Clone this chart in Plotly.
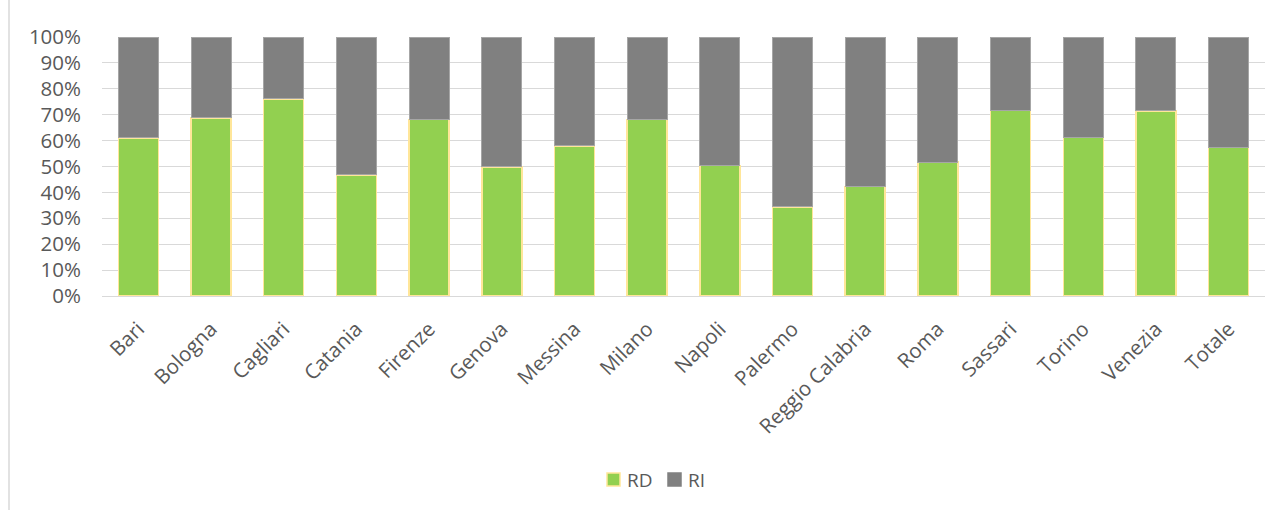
import plotly.graph_objects as go

# Share of separated (RD) vs. unsorted (RI) waste by city
cities = ["Bari", "Bologna", "Cagliari", "Catania", "Firenze", "Genova", "Messina",
          "Milano", "Napoli", "Palermo", "Reggio Calabria", "Roma", "Sassari",
          "Torino", "Venezia", "Totale"]
rd = [61.1, 68.8, 76.1, 46.8, 68.1, 49.9, 58.0, 68.1, 50.4, 34.4, 42.2, 51.7,
      71.6, 61.2, 71.5, 57.5]
ri = [round(100 - v, 1) for v in rd]
y_ticks = [0, 10, 20, 30, 40, 50, 60, 70, 80, 90, 100]
series_names = ["RD", "RI"]

W, H = 1285, 510
ML, MR, MT, MB = 102, 20, 37, 214
plot_w = W - ML - MR
plot_h = H - MT - MB

font_family = "'Open Sans', sans-serif"
text_color = "#595959"
tick_size = 20.5
rd_fill, rd_edge = "#92D050", "#FFE699"
ri_fill, ri_edge = "#808080", "#A6A6A6"


def px_x(p):
    return (p - ML) / plot_w


def px_y(p):
    return (H - MB - p) / plot_h


fig = go.Figure()
fig.add_trace(go.Bar(
    x=cities, y=rd, name=series_names[0], showlegend=False,
    marker=dict(color=rd_fill, line=dict(color=rd_edge, width=1.5)),
))
fig.add_trace(go.Bar(
    x=cities, y=ri, name=series_names[1], showlegend=False,
    marker=dict(color=ri_fill, line=dict(color=ri_edge, width=1)),
))

# Legend keys drawn below the category labels
legend_items = [
    (series_names[0], rd_fill, rd_edge, 607),
    (series_names[1], ri_fill, ri_fill, 668),
]
shapes = [dict(
    type="line", xref="paper", yref="paper",
    x0=px_x(9), x1=px_x(9), y0=px_y(H), y1=px_y(0),
    line=dict(color="#D9D9D9", width=1.5),
)]
annotations = []
for name, fill, edge, x_left in legend_items:
    shapes.append(dict(
        type="rect", xref="paper", yref="paper",
        x0=px_x(x_left), x1=px_x(x_left + 13),
        y0=px_y(486), y1=px_y(473),
        fillcolor=fill, line=dict(color=edge, width=1.5),
    ))
    annotations.append(dict(
        text=name, xref="paper", yref="paper",
        x=px_x(x_left + 18), y=px_y(479.5),
        xanchor="left", yanchor="middle", showarrow=False,
        font=dict(family=font_family, size=19, color=text_color),
    ))

fig.update_layout(
    width=W, height=H,
    barmode="stack",
    bargap=0.45,
    plot_bgcolor="white",
    paper_bgcolor="white",
    margin=dict(l=ML, r=MR, t=MT, b=MB, pad=0),
    font=dict(family=font_family, size=tick_size, color=text_color),
    showlegend=False,
    xaxis=dict(
        tickangle=-45, showgrid=False, showline=False, ticks="",
        ticklabelstandoff=16,
        tickfont=dict(size=tick_size, color=text_color),
    ),
    yaxis=dict(
        range=[0, 100], tickvals=y_ticks,
        ticktext=[f"{v}%" for v in y_ticks],
        showgrid=True, gridcolor="#D9D9D9", gridwidth=1,
        zeroline=True, zerolinecolor="#D9D9D9", zerolinewidth=1,
        showline=False, ticks="", ticklabelstandoff=20,
        tickfont=dict(size=tick_size, color=text_color),
    ),
    shapes=shapes,
    annotations=annotations,
)

fig.write_html("out.html")
